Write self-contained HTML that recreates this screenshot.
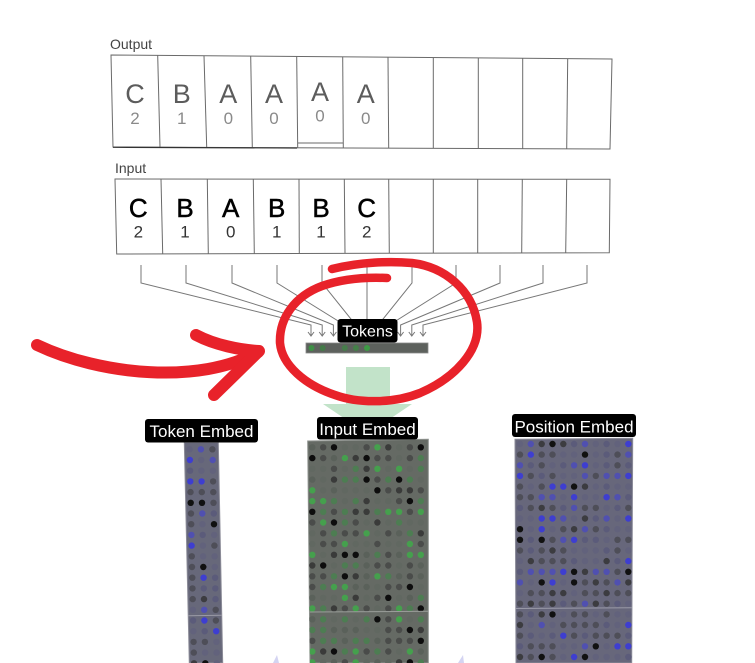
<!DOCTYPE html>
<html><head><meta charset="utf-8">
<style>
html,body{margin:0;padding:0;background:#fff;width:755px;height:663px;overflow:hidden;}
svg{display:block;}
text{font-family:"Liberation Sans",Arial,sans-serif;}
</style></head><body>
<svg id="s" width="755" height="663" viewBox="0 0 755 663" xmlns="http://www.w3.org/2000/svg">
<!-- OUTPUT -->
<text x="110" y="49" font-size="14" fill="#444">Output</text>
<g stroke="#6a6a6a" stroke-width="1" fill="none">
<path d="M111,55 L612,59 L610,149 L113,147 Z"/>
<line x1="157.7" y1="55.4" x2="160" y2="147.2"/>
<line x1="204" y1="55.7" x2="206.7" y2="147.4"/>
<line x1="250.7" y1="56.1" x2="252.3" y2="147.6"/>
<line x1="296.7" y1="56.5" x2="297.7" y2="147.7"/>
<line x1="342.7" y1="56.9" x2="343.3" y2="147.9"/>
<line x1="388" y1="57.2" x2="388.7" y2="148.1"/>
<line x1="433.3" y1="57.6" x2="433.3" y2="148.3"/>
<line x1="478.3" y1="57.9" x2="478.3" y2="148.5"/>
<line x1="522.7" y1="58.3" x2="522.7" y2="148.6"/>
<line x1="567.7" y1="58.6" x2="566.7" y2="148.8"/>
<line x1="297.7" y1="143" x2="343.2" y2="143"/>
</g>
<line x1="113" y1="147.3" x2="297" y2="148" stroke="#333" stroke-width="1.2"/>
<g font-size="27" fill="#5c5c5c" text-anchor="middle">
<text x="135" y="103">C</text><text x="181.7" y="103">B</text><text x="228.3" y="103">A</text>
<text x="274" y="103">A</text><text x="320" y="101">A</text><text x="365.7" y="103">A</text>
</g>
<g font-size="17" fill="#8a8a8a" text-anchor="middle">
<text x="135" y="124">2</text><text x="181.7" y="124">1</text><text x="228.3" y="124">0</text>
<text x="274" y="124">0</text><text x="320" y="121.5">0</text><text x="365.7" y="124">0</text>
</g>

<!-- INPUT -->
<text x="115" y="173" font-size="14" fill="#444">Input</text>
<g stroke="#6a6a6a" stroke-width="1" fill="none">
<path d="M115,179 L610,179.3 L609.3,252.7 L116.7,254 Z"/>
<line x1="161" y1="179" x2="162.7" y2="253.8"/>
<line x1="207.3" y1="179.1" x2="208.3" y2="253.6"/>
<line x1="253.3" y1="179.1" x2="254.3" y2="253.5"/>
<line x1="299" y1="179.1" x2="299.3" y2="253.4"/>
<line x1="344.3" y1="179.1" x2="345" y2="253.3"/>
<line x1="388.7" y1="179.2" x2="389.3" y2="253.2"/>
<line x1="433.3" y1="179.2" x2="433.3" y2="253.1"/>
<line x1="477.7" y1="179.2" x2="477.7" y2="253"/>
<line x1="522.3" y1="179.3" x2="521.7" y2="252.9"/>
<line x1="566.7" y1="179.3" x2="565.7" y2="252.8"/>
</g>
<g font-size="26" fill="#000" text-anchor="middle" stroke="#000" stroke-width="0.5">
<text x="138.3" y="217">C</text><text x="185" y="217">B</text><text x="230.7" y="217">A</text>
<text x="276.7" y="217">B</text><text x="321" y="217">B</text><text x="366.7" y="217">C</text>
</g>
<g font-size="17" fill="#333" text-anchor="middle">
<text x="138.3" y="237.5">2</text><text x="185" y="237.5">1</text><text x="230.7" y="237.5">0</text>
<text x="276.7" y="237.5">1</text><text x="321" y="237.5">1</text><text x="366.7" y="237.5">2</text>
</g>

<!-- CONNECTORS -->
<g stroke="#777" stroke-width="1" fill="none">
<path d="M141,265 L141,283 L311,325 L311,336 M308,332 L311,336 L314,332"/>
<path d="M186,265 L186,283 L322.2,325 L322.2,336 M319.2,332 L322.2,336 L325.2,332"/>
<path d="M232,265 L232,283 L333.4,325 L333.4,336 M330.4,332 L333.4,336 L336.4,332"/>
<path d="M277,265 L277,283 L344.6,325 L344.6,336"/>
<path d="M322,265 L322,283 L355.8,325 L355.8,336"/>
<path d="M367,265 L367,336"/>
<path d="M412,265 L412,283 L378.2,325 L378.2,336"/>
<path d="M456,265 L456,283 L389.4,325 L389.4,336"/>
<path d="M500,265 L500,283 L400.6,325 L400.6,336 M397.6,332 L400.6,336 L403.6,332"/>
<path d="M543,265 L543,283 L411.8,325 L411.8,336 M408.8,332 L411.8,336 L414.8,332"/>
<path d="M587,265 L587,283 L423,325 L423,336 M420,332 L423,336 L426,332"/>
</g>
<rect x="337.5" y="319" width="60" height="23.5" rx="3" fill="#000"/>
<text x="367.5" y="336.5" font-size="16" fill="#fff" text-anchor="middle">Tokens</text>
<rect x="306" y="343" width="122" height="10" fill="#5d615d" stroke="#8a8a8a" stroke-width="0.8"/>
<g fill="#3f8f46">
<circle cx="311.5" cy="348" r="3"/><circle cx="322.6" cy="348" r="3" fill="#447a48"/>
<circle cx="344.8" cy="348" r="3" fill="#467c4a"/><circle cx="355.9" cy="348" r="3" fill="#447f48"/>
<circle cx="367" cy="348" r="3" fill="#3d9a45"/>
</g>

<!-- green arrow -->
<rect x="346" y="367" width="44" height="38" fill="#c2e3c9"/>
<polygon points="323,404 412,404 367.5,434" fill="#c2e3c9"/>

<!-- lavender slivers -->
<polygon points="273,663 277,655 279,663" fill="#d4d4f2"/>
<polygon points="458,663 463,655 464,663" fill="#d4d4f2"/>

<!-- EMBED COLUMNS -->
<defs>
<clipPath id="cT"><polygon points="184.3,442.5 218.3,442.5 222.7,663 189.3,663"/></clipPath>
<clipPath id="cI"><polygon points="307.7,441 428.3,439.3 428.3,663 310,663"/></clipPath>
<clipPath id="cP"><polygon points="515,439.3 632.7,438.3 631.7,663 516,663"/></clipPath>
</defs>
<polygon points="184.3,442.5 218.3,442.5 222.7,663 189.3,663" fill="#67687a" stroke="#8c8c98" stroke-width="1"/>
<polygon points="307.7,441 428.3,439.3 428.3,663 310,663" fill="#656a64" stroke="#8c908c" stroke-width="1"/>
<polygon points="515,439.3 632.7,438.3 631.7,663 516,663" fill="#67677b" stroke="#8c8c9a" stroke-width="1"/>
<g id="dT" clip-path="url(#cT)"></g>
<g id="dI" clip-path="url(#cI)"></g>
<g id="dP" clip-path="url(#cP)"></g>
<line x1="188" y1="615.7" x2="222" y2="615.2" stroke="#9a9aa6" stroke-width="1"/>
<line x1="309.5" y1="612" x2="428.3" y2="611.3" stroke="#9a9e9a" stroke-width="1"/>
<line x1="515.8" y1="608.5" x2="632" y2="607.8" stroke="#9a9aa8" stroke-width="1"/>

<!-- labels -->
<rect x="145" y="419" width="113" height="23.5" rx="3" fill="#000"/>
<text x="201.5" y="437" font-size="17" fill="#fff" text-anchor="middle">Token Embed</text>
<rect x="317" y="417" width="101" height="22.5" rx="3" fill="#000"/>
<text x="367.5" y="435" font-size="17" fill="#fff" text-anchor="middle">Input Embed</text>
<rect x="512" y="414" width="124" height="23" rx="3" fill="#000"/>
<text x="574" y="432.5" font-size="17" fill="#fff" text-anchor="middle">Position Embed</text>

<!-- RED ANNOTATIONS -->
<g stroke="#e8222a" fill="none" stroke-linecap="round" stroke-linejoin="round">
<path d="M37,345 C100,375 200,385 258,352" stroke-width="12"/>
<path d="M196,335 C215,345 240,350 259,351 L214,395" stroke-width="12"/>
<path d="M332,269 C360,262 390,261 412,263 C445,267 472,290 477,322 C481,350 455,378 420,393 C395,403 360,404 335,395 C305,385 282,365 280,343 C279,318 295,296 322,286 C342,279 365,277 387,278" stroke-width="8.5"/>
</g>
</svg>
<script>
(function(){
var NS="http://www.w3.org/2000/svg";
function rng(seed){return function(){seed=(seed*1664525+1013904223)>>>0;return seed/4294967296;};}
function pick(r,ws){var v=r(),a=0;for(var i=0;i<ws.length;i++){a+=ws[i][1];if(v<a)return ws[i][0];}return ws[ws.length-1][0];}
var gI=[['#616861',0.18],['#5a615a',0.08],['#4a4c4a',0.28],['#3a3b3a',0.09],['#0d0d0d',0.11],['#4d7d52',0.16],['#45a04d',0.1]];
var gP=[['#62627c',0.25],['#5b5b7a',0.15],['#4e4e58',0.25],['#3c3c40',0.08],['#111',0.06],['#5050b0',0.13],['#3e3ed0',0.08]];
function fill(id,seed,y0,dy,cols,shift,ws){
  var g=document.getElementById(id),r=rng(seed);
  for(var y=y0;y<670;y+=dy){
    for(var j=0;j<cols.length;j++){
      var c=document.createElementNS(NS,'circle');
      c.setAttribute('cx',(cols[j]+shift(y)).toFixed(1));
      c.setAttribute('cy',y.toFixed(1));
      c.setAttribute('r','3.2');
      c.setAttribute('fill',pick(r,ws));
      g.appendChild(c);
    }
  }
}
var ci=[],cp=[];
for(var j=0;j<11;j++){ci.push(312.3+10.85*j);cp.push(520+10.83*j);}
fill('dT',7,449.3,10.7,[189.5,200.8,212.3],function(y){return (y-442)*4.5/221;},gP);
fill('dI',13,447.3,10.75,ci,function(y){return 0;},gI);
fill('dP',29,444,10.65,cp,function(y){return 0;},gP);
})();
</script>
</body></html>
